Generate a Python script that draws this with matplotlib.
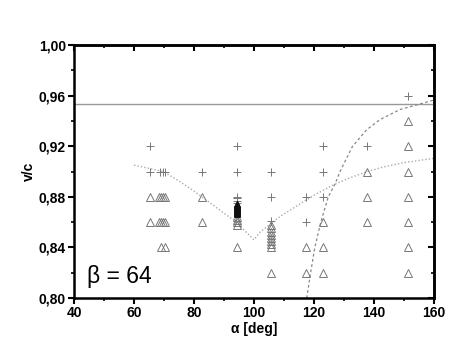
import matplotlib.pyplot as plt
from matplotlib.ticker import MultipleLocator, FuncFormatter

plt.rcParams['font.family'] = ['Liberation Sans', 'DejaVu Sans']

# measured points, crosses (+)
cross_x = [65.3, 65.3, 68.7, 69.5, 70.3, 82.8,
           94.2, 94.2, 94.2, 94.2, 94.2, 94.2,
           105.7, 105.7, 105.7, 117.3, 117.3,
           122.9, 122.9, 122.9, 137.8, 151.5]
cross_y = [0.92, 0.90, 0.90, 0.90, 0.90, 0.90,
           0.92, 0.90, 0.88, 0.879, 0.877, 0.875,
           0.90, 0.88, 0.8605, 0.88, 0.86,
           0.92, 0.90, 0.88, 0.92, 0.96]

# densely measured points at alpha = 94.2 (show as a solid black bar)
dense_x = [94.2, 94.2, 94.2, 94.2, 94.2, 94.2, 94.2, 94.2, 94.2,
           94.2, 94.2, 94.2, 94.2, 94.2, 94.2, 94.2, 94.2]
dense_y = [0.8745, 0.874, 0.8735, 0.873, 0.8725, 0.872, 0.8715, 0.871, 0.8705,
           0.870, 0.8695, 0.869, 0.8685, 0.868, 0.8675, 0.867, 0.8665]

# measured points, triangles
tri_x = [65.3, 65.3, 68.3, 69.0, 69.7, 70.3, 68.3, 69.0, 69.7, 70.3,
         69.1, 70.2, 82.8, 82.8,
         94.2, 94.2, 94.2, 94.2, 94.2,
         105.7, 105.7, 105.7, 105.7, 105.7, 105.7, 105.7, 105.7, 105.7,
         117.3, 117.3, 122.9, 122.9, 122.9,
         137.8, 137.8, 137.8,
         151.5, 151.5, 151.5, 151.5, 151.5, 151.5, 151.5]
tri_y = [0.88, 0.86, 0.88, 0.88, 0.88, 0.88, 0.86, 0.86, 0.86, 0.86,
         0.84, 0.84, 0.88, 0.86,
         0.864, 0.862, 0.860, 0.858, 0.84,
         0.8575, 0.855, 0.8525, 0.850, 0.8475, 0.845, 0.8425, 0.840, 0.82,
         0.84, 0.82, 0.86, 0.84, 0.82,
         0.90, 0.88, 0.86,
         0.94, 0.92, 0.90, 0.88, 0.86, 0.84, 0.82]

# dotted V-shaped curve
v_x = [60, 65, 69.8, 75, 80, 85.3, 90, 94.2, 97, 100,
       102, 105.7, 109, 113.1, 117, 121, 126.4, 132, 137.6, 143, 150, 160]
v_y = [0.905, 0.9025, 0.8999, 0.8925, 0.8845, 0.8753, 0.867, 0.860, 0.853, 0.846,
       0.852, 0.859, 0.865, 0.871, 0.877, 0.8825, 0.8893, 0.895, 0.8998, 0.9035, 0.907, 0.9104]

# dashed curve
d_x = [117.6, 118.9, 120.3, 122.3, 124.8, 127.2, 128.7, 132.9, 137.6, 142, 148.7, 154.2, 160]
d_y = [0.80, 0.82, 0.84, 0.86, 0.88, 0.891, 0.90, 0.92, 0.933, 0.941, 0.949, 0.9526, 0.9565]

h_level = 0.953

fig = plt.figure(figsize=(4.69, 3.63), dpi=100)
ax = fig.add_axes([0.158, 0.179, 0.767, 0.697])

ax.axhline(h_level, color='#999999', lw=1.0)
ax.plot(v_x, v_y, color='#aaaaaa', lw=1.0, ls=(0, (1, 1.5)))
ax.plot(d_x, d_y, color='#888888', lw=0.9, ls=(0, (2.2, 2)))
ax.plot(tri_x, tri_y, ls='none', marker='^', ms=5.5, mfc='none', mec='#777777', mew=0.7)
ax.plot(cross_x, cross_y, ls='none', marker='+', ms=5.5, mec='#777777', mew=0.7)
ax.plot(dense_x, dense_y, ls='none', marker='^', ms=5, mfc='#111111', mec='#111111', mew=0.7)

ax.set_xlim(40, 160)
ax.set_ylim(0.80, 1.00)
ax.xaxis.set_major_locator(MultipleLocator(20))
ax.xaxis.set_minor_locator(MultipleLocator(10))
ax.yaxis.set_major_locator(MultipleLocator(0.04))
ax.yaxis.set_minor_locator(MultipleLocator(0.02))
ax.yaxis.set_major_formatter(FuncFormatter(lambda v, p: f'{v:.2f}'.replace('.', ',')))

for s in ax.spines.values():
    s.set_linewidth(1.8)
ax.tick_params(which='major', direction='out', length=4, width=1.5, labelsize=10, pad=2)
ax.tick_params(which='minor', direction='out', length=2.5, width=1.2)
for lab in ax.get_xticklabels() + ax.get_yticklabels():
    lab.set_fontweight('bold')

top = ax.secondary_xaxis('top')
top.xaxis.set_major_locator(MultipleLocator(20))
top.xaxis.set_minor_locator(MultipleLocator(10))
top.tick_params(which='major', direction='in', length=4, width=1.5, labeltop=False)
top.tick_params(which='minor', direction='in', length=2.5, width=1.2)
right = ax.secondary_yaxis('right')
right.yaxis.set_major_locator(MultipleLocator(0.04))
right.yaxis.set_minor_locator(MultipleLocator(0.02))
right.tick_params(which='major', direction='in', length=4, width=1.5, labelright=False)
right.tick_params(which='minor', direction='in', length=2.5, width=1.2)
for sax in (top, right):
    for s in sax.spines.values():
        s.set_linewidth(1.8)

ax.set_xlabel('α [deg]', fontsize=10, fontweight='bold', labelpad=1)
ax.set_ylabel('v/c', fontsize=10, fontweight='bold', labelpad=2)
ax.text(44.3, 0.812, 'β = 64', fontsize=16.5, va='baseline', ha='left')

fig.savefig('out.png', dpi=100)
